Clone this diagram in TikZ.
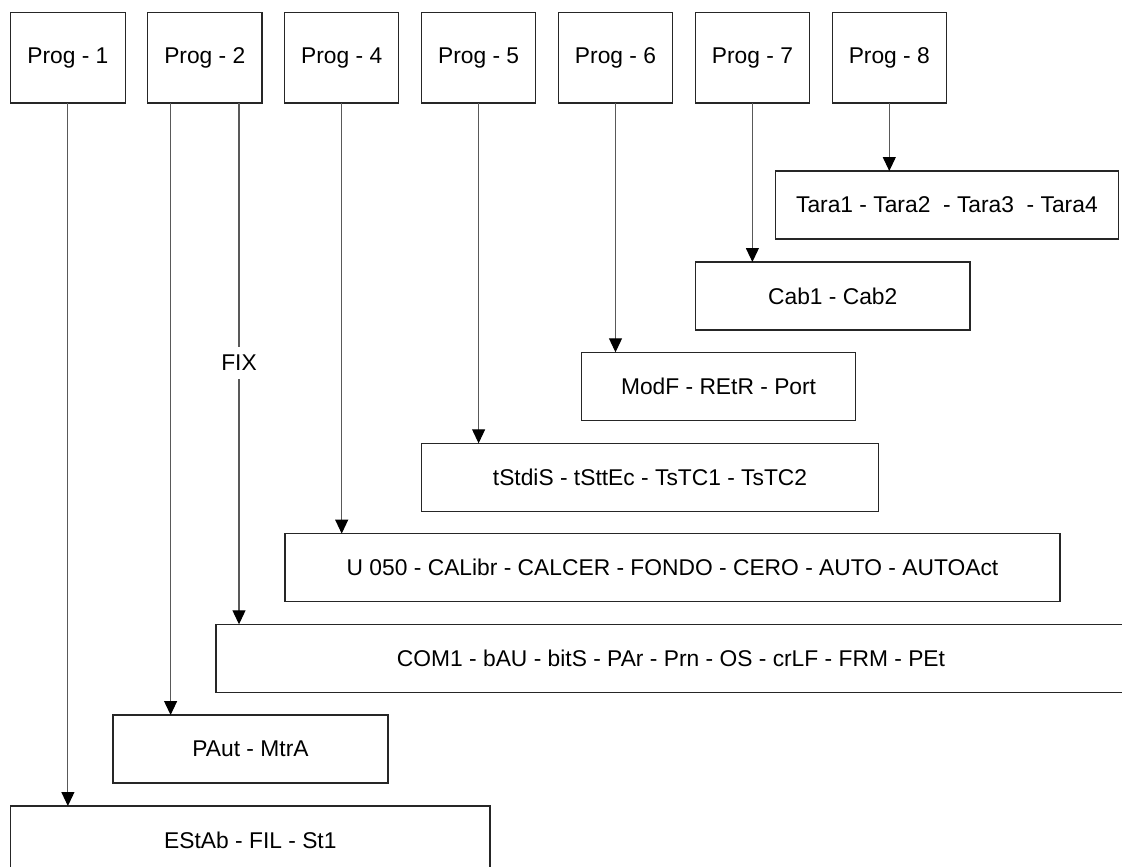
\documentclass[tikz,border=0pt]{standalone}
\usepackage{fontspec}
\setmainfont{Liberation Sans}
\usetikzlibrary{arrows.meta,calc}
\begin{document}
\begin{tikzpicture}[x=1pt,y=-1pt,
  box/.style={draw=black!85, line width=1.1pt, rectangle, inner sep=0pt, outer sep=0pt,
    font=\fontsize{22.8}{27}\selectfont, anchor=north west, minimum height=68pt},
  progbox/.style={box, minimum width=114.4pt, minimum height=90.5pt},
  arr/.style={draw=black!65, line width=1.1pt, -{Triangle[length=14pt,width=13pt,color=black,fill=black]}},
  lbl/.style={fill=white, inner sep=0pt, minimum height=32pt, font=\fontsize{22.8}{27}\selectfont}]
\useasboundingbox (0,0) rectangle (1122,867);
\clip (0,0) rectangle (1122,867);
% program boxes
\node[progbox] (p1) at (10.7,12.5) {Prog - 1};
\node[progbox] (p2) at (147.6,12.5) {Prog - 2};
\node[progbox] (p4) at (284.5,12.5) {Prog - 4};
\node[progbox] (p5) at (421.4,12.5) {Prog - 5};
\node[progbox] (p6) at (558.3,12.5) {Prog - 6};
\node[progbox] (p7) at (695.2,12.5) {Prog - 7};
\node[progbox] (p8) at (832.1,12.5) {Prog - 8};
% parameter boxes
\node[box, minimum width=343pt] (t8) at (775.4,171) {Tara1 - Tara2\ \ - Tara3\ \ - Tara4};
\node[box, minimum width=274.5pt] (t7) at (695.5,262) {Cab1 - Cab2};
\node[box, minimum width=273.5pt] (t6) at (581.8,352.3) {ModF - REtR - Port};
\node[box, minimum width=456.6pt] (t5) at (421.7,443.3) {tStdiS - tSttEc - TsTC1 - TsTC2};
\node[box, minimum width=775pt] (t4) at (285,533.6) {U 050 - CALibr - CALCER - FONDO - CERO - AUTO - AUTOAct};
\node[box, minimum width=910pt] (t2b) at (216,624.3) {COM1 - bAU - bitS - PAr - Prn - OS - crLF - FRM - PEt};
\node[box, minimum width=275pt] (t2a) at (113,715) {PAut - MtrA};
\node[box, minimum width=479.3pt] (t1) at (10.7,806) {EStAb - FIL - St1};
% connectors
\draw[arr] (p1.south) -- (p1.south |- t1.north);
\draw[arr] ([xshift=-34.2pt]p2.south) -- ([xshift=-34.2pt]p2.south |- t2a.north);
\draw[arr] ([xshift=34.2pt]p2.south) -- ([xshift=34.2pt]p2.south |- t2b.north);
\draw[arr] (p4.south) -- (p4.south |- t4.north);
\draw[arr] (p5.south) -- (p5.south |- t5.north);
\draw[arr] (p6.south) -- (p6.south |- t6.north);
\draw[arr] (p7.south) -- (p7.south |- t7.north);
\draw[arr] (p8.south) -- (p8.south |- t8.north);
\node[lbl] (fix) at ($([xshift=34.2pt]p2.south)+(0,260)$) {FIX};
\end{tikzpicture}
\end{document}
